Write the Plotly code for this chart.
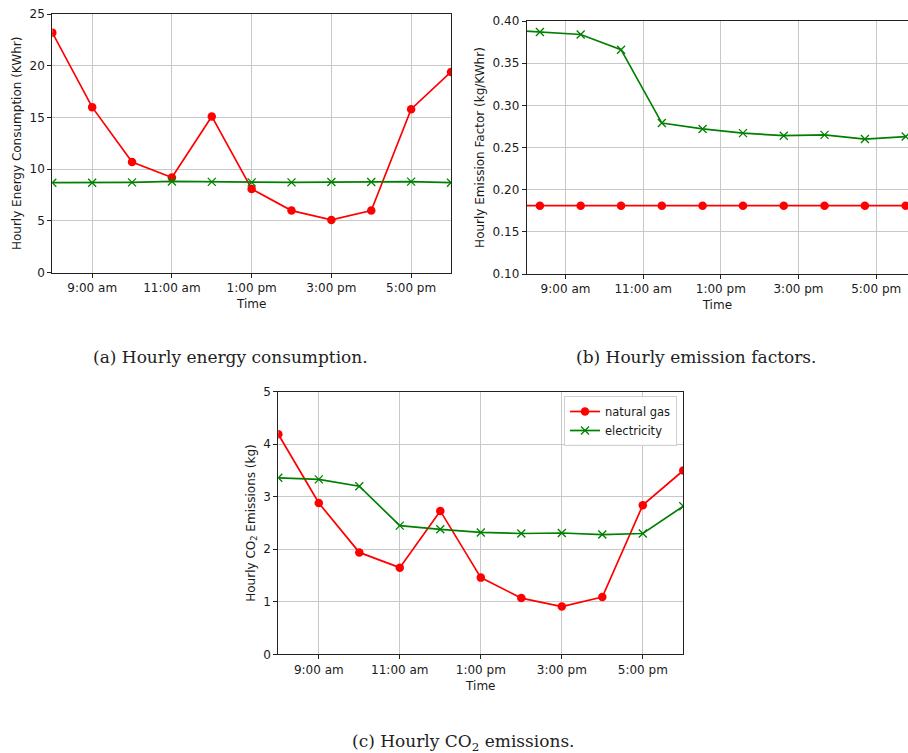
import plotly.graph_objects as go

W, H = 908, 753

# ---------------- data ----------------
hours = [8, 9, 10, 11, 12, 13, 14, 15, 16, 17, 18]
tick_hours = [9, 11, 13, 15, 17]
tick_labels = ["9:00 am", "11:00 am", "1:00 pm", "3:00 pm", "5:00 pm"]

# (a) hourly energy consumption (KWhr)
energy_gas = [23.2, 16.0, 10.7, 9.2, 15.1, 8.1, 6.0, 5.1, 6.0, 15.8, 19.4]
energy_elec = [8.70, 8.70, 8.73, 8.82, 8.78, 8.73, 8.73, 8.76, 8.76, 8.80, 8.70]

# (b) hourly emission factors (kg/KWhr)
ef_hours = [7.30, 8.34, 9.39, 10.43, 11.48, 12.53, 13.57, 14.62, 15.67, 16.71, 17.76]
ef_gas = [0.181] * 11
ef_elec = [0.390, 0.387, 0.384, 0.366, 0.279, 0.272, 0.267, 0.264, 0.265, 0.260, 0.263]

# (c) hourly CO2 emissions (kg)
co2_gas = [4.19, 2.88, 1.94, 1.65, 2.73, 1.46, 1.07, 0.91, 1.09, 2.84, 3.50]
co2_elec = [3.36, 3.33, 3.20, 2.45, 2.38, 2.32, 2.30, 2.31, 2.28, 2.30, 2.82]

RED = "#ff0000"
GREEN = "#008000"
FONT = "DejaVu Sans"
FS = 12
TXT = "#1a1a1a"

def px_x(p):
    return p / W

def px_y(p):
    return 1 - p / H

fig = go.Figure()

def add_pair(xg, yg, xe, ye, xa, ya, legend):
    fig.add_trace(go.Scatter(
        x=xg, y=yg, mode="lines+markers", name="natural gas",
        line=dict(color=RED, width=1.7),
        marker=dict(symbol="circle", size=8.5, color=RED),
        xaxis=xa, yaxis=ya, showlegend=legend, cliponaxis=True))
    fig.add_trace(go.Scatter(
        x=xe, y=ye, mode="lines+markers", name="electricity",
        line=dict(color=GREEN, width=1.7),
        marker=dict(symbol="x-thin", size=8, color=GREEN,
                    line=dict(color=GREEN, width=1.3)),
        xaxis=xa, yaxis=ya, showlegend=legend, cliponaxis=True))

add_pair(hours, energy_gas, hours, energy_elec, "x", "y", False)
add_pair(ef_hours, ef_gas, ef_hours, ef_elec, "x2", "y2", False)
add_pair(hours, co2_gas, hours, co2_elec, "x3", "y3", True)

def xaxis(domain, rng, anchor):
    return dict(domain=domain, range=rng, anchor=anchor,
                tickmode="array", tickvals=tick_hours, ticktext=tick_labels,
                showgrid=True, gridcolor="#c8c8c8", gridwidth=1,
                showline=True, linecolor="#222222", linewidth=1, mirror=True,
                ticks="outside", ticklen=4, tickcolor="#222222",
                tickfont=dict(family=FONT, size=FS, color=TXT),
                title=dict(text="Time", font=dict(family=FONT, size=FS, color=TXT),
                           standoff=5),
                zeroline=False, automargin=False, fixedrange=True)

def yaxis(domain, rng, dtick, fmt, anchor, title):
    return dict(domain=domain, range=rng, anchor=anchor, dtick=dtick, tick0=0,
                tickformat=fmt,
                showgrid=True, gridcolor="#c8c8c8", gridwidth=1,
                showline=True, linecolor="#222222", linewidth=1, mirror=True,
                ticks="outside", ticklen=4, tickcolor="#222222",
                tickfont=dict(family=FONT, size=FS, color=TXT),
                title=dict(text=title, font=dict(family=FONT, size=FS, color=TXT),
                           standoff=5),
                zeroline=False, automargin=False, fixedrange=True)

fig.update_layout(
    width=W, height=H,
    margin=dict(l=0, r=0, t=0, b=0),
    paper_bgcolor="white", plot_bgcolor="white",
    xaxis=xaxis([px_x(52.3), px_x(451)], [8, 18], "y"),
    yaxis=yaxis([px_y(272.7), px_y(14)], [0, 25], 5, "d", "x",
                "Hourly Energy Consumption (KWhr)"),
    xaxis2=xaxis([px_x(526.7), 1.0], [8, 17.82], "y2"),
    yaxis2=yaxis([px_y(274), px_y(21)], [0.10, 0.40], 0.05, ".2f", "x2",
                 "Hourly Emission Factor (kg/KWhr)"),
    xaxis3=xaxis([px_x(278.3), px_x(683.3)], [8, 18], "y3"),
    yaxis3=yaxis([px_y(654.3), px_y(391.7)], [0, 5], 1, "d", "x3",
                 "Hourly CO<sub>2</sub> Emissions (kg)"),
    legend=dict(x=px_x(677), y=px_y(396), xanchor="right", yanchor="top",
                bgcolor="rgba(255,255,255,0.85)", bordercolor="#d0d0d0", borderwidth=1,
                font=dict(family=FONT, size=11.5, color=TXT),
                itemwidth=30, tracegroupgap=0),
    showlegend=True,
    hovermode=False,
)

CAP_FONT = dict(family="DejaVu Serif", size=17, color="#222222")
captions = [
    ("(a) Hourly energy consumption.", 230, 357),
    ("(b) Hourly emission factors.", 696, 357),
    ("(c) Hourly CO<sub>2</sub> emissions.", 463.5, 742),
]
for text, cx, cy in captions:
    fig.add_annotation(text=text, x=px_x(cx), y=px_y(cy), xref="paper", yref="paper",
                       xanchor="center", yanchor="middle", showarrow=False, font=CAP_FONT)

fig.write_html(
    "out.html",
    config={"displayModeBar": False},
    post_script="document.body.style.margin='0';document.body.style.overflow='hidden';",
)
